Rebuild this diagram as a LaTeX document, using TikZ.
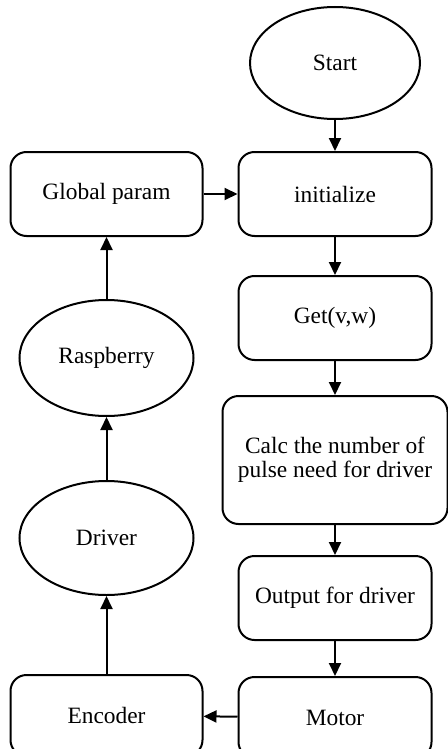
\documentclass[tikz,border=0pt]{standalone}
\usepackage{fontspec}
\setmainfont{Liberation Serif}
\usepackage{tikz}
\usetikzlibrary{positioning}
\usetikzlibrary{arrows.meta}
\usetikzlibrary{shapes}
\tikzset{box node/.style={rectangle,rounded corners=8pt,draw,line width=1pt,minimum width=96.5pt,minimum height=42pt,inner sep=2pt,align=center,font=\fontsize{11.7pt}{12pt}\selectfont},
oval node/.style={ellipse,draw,line width=1pt,minimum width=87pt,minimum height=58pt,inner sep=0pt,font=\fontsize{11.7pt}{12pt}\selectfont},}

\begin{document}
\begin{tikzpicture}[->,>={Triangle[length=6.5pt,width=6pt]},line width=1pt]
    \useasboundingbox (0,0) rectangle (224pt,-374.5pt);
    \node[oval node,minimum width=85pt,minimum height=56pt] (start) at (167.5pt,-31.5pt) {Start};
    \node[box node] (init) [below = 15.5pt of start] {initialize};
    \node[box node] (get) [below = 19pt of init] {Get(v,w)};
    \node[box node,minimum width=112.5pt,minimum height=64pt] (calc) [below = 17pt of get] {Calc the number of\\pulse need for driver};
    \node[box node] (output) [below = 15pt of calc] {Output for driver};
    \node[box node,minimum height=40.5pt] (motor) [below = 17.5pt of output] {Motor};
    \node[box node,minimum width=96pt] (global) [left = 17pt of init] {Global param};
    \node[oval node] (rasp) [below = 31pt of global] {Raspberry};
    \node[oval node,minimum height=57pt] (driver) [below = 31.5pt of rasp] {Driver};
    \node[box node,minimum width=96pt,minimum height=40.5pt] (encoder) [below = 39pt of driver] {Encoder};

    \path[draw]
    (start) edge (init)
    (init) edge (get)
    (get) edge (calc)
    (calc) edge (output)
    (output) edge (motor)
    (motor) edge (encoder)
    (encoder) edge (driver)
    (driver) edge (rasp)
    (rasp) edge (global)
    (global) edge (init);
\end{tikzpicture}
\end{document}
